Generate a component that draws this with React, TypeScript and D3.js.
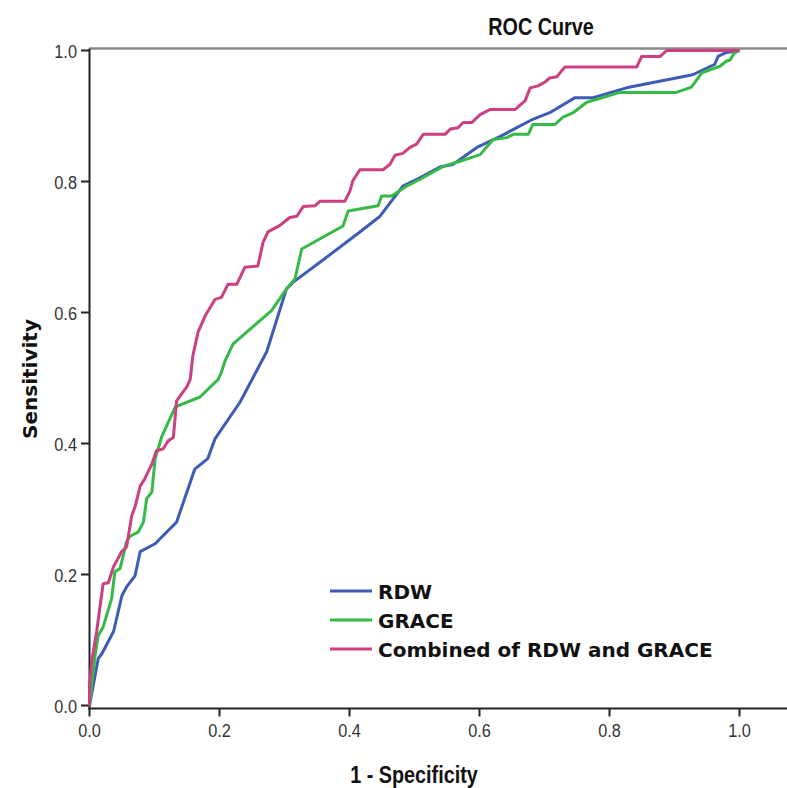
import React from "react";
import * as d3 from "d3";

const xTicks = [0, 0.2, 0.4, 0.6, 0.8, 1.0];
const yTicks = [0, 0.2, 0.4, 0.6, 0.8, 1.0];

const rdwFpr = [0, 0.0135, 0.019, 0.037, 0.05, 0.057, 0.07, 0.078, 0.101, 0.134, 0.162, 0.182, 0.193, 0.2315, 0.2726, 0.303, 0.313, 0.355, 0.416, 0.447, 0.482, 0.503, 0.539, 0.559, 0.596, 0.632, 0.682, 0.708, 0.747, 0.775, 0.826, 0.928, 0.962, 0.967, 0.98, 1];
const rdwTpr = [0, 0.072, 0.079, 0.113, 0.168, 0.181, 0.198, 0.235, 0.247, 0.28, 0.361, 0.377, 0.407, 0.463, 0.54, 0.636, 0.646, 0.677, 0.723, 0.747, 0.793, 0.803, 0.822, 0.826, 0.852, 0.869, 0.895, 0.905, 0.928, 0.928, 0.943, 0.963, 0.979, 0.991, 0.997, 1];

const graceFpr = [0, 0.0085, 0.0135, 0.021, 0.034, 0.039, 0.047, 0.057, 0.062, 0.075, 0.083, 0.088, 0.096, 0.101, 0.111, 0.132, 0.17, 0.198, 0.203, 0.2085, 0.221, 0.28, 0.303, 0.316, 0.3265, 0.39, 0.398, 0.444, 0.4495, 0.465, 0.488, 0.508, 0.544, 0.57, 0.601, 0.621, 0.642, 0.652, 0.675, 0.682, 0.716, 0.728, 0.744, 0.765, 0.816, 0.903, 0.926, 0.942, 0.97, 0.98, 0.985, 0.992, 1];
const graceTpr = [0, 0.076, 0.107, 0.12, 0.163, 0.204, 0.209, 0.25, 0.258, 0.265, 0.28, 0.316, 0.326, 0.377, 0.41, 0.456, 0.471, 0.498, 0.509, 0.526, 0.552, 0.603, 0.636, 0.651, 0.697, 0.732, 0.755, 0.763, 0.778, 0.778, 0.793, 0.803, 0.823, 0.831, 0.841, 0.864, 0.867, 0.872, 0.872, 0.887, 0.887, 0.898, 0.905, 0.921, 0.936, 0.936, 0.944, 0.966, 0.976, 0.984, 0.985, 0.996, 1];

const combFpr = [0, 0, 0.0034, 0.011, 0.021, 0.029, 0.037, 0.042, 0.0495, 0.057, 0.065, 0.07, 0.078, 0.085, 0.096, 0.103, 0.1135, 0.121, 0.129, 0.134, 0.142, 0.1495, 0.155, 0.159, 0.167, 0.178, 0.193, 0.203, 0.213, 0.2265, 0.239, 0.259, 0.267, 0.2745, 0.293, 0.308, 0.319, 0.329, 0.347, 0.355, 0.393, 0.401, 0.405, 0.416, 0.4515, 0.462, 0.47, 0.482, 0.493, 0.503, 0.5135, 0.547, 0.555, 0.567, 0.575, 0.588, 0.601, 0.616, 0.655, 0.67, 0.678, 0.69, 0.701, 0.708, 0.719, 0.7315, 0.842, 0.8495, 0.878, 0.888, 1];
const combTpr = [0, 0.03, 0.067, 0.113, 0.186, 0.1875, 0.212, 0.221, 0.235, 0.242, 0.29, 0.303, 0.335, 0.346, 0.369, 0.389, 0.392, 0.404, 0.409, 0.465, 0.476, 0.486, 0.498, 0.534, 0.57, 0.595, 0.62, 0.623, 0.643, 0.643, 0.669, 0.671, 0.707, 0.723, 0.733, 0.745, 0.747, 0.762, 0.763, 0.77, 0.77, 0.786, 0.801, 0.818, 0.818, 0.826, 0.84, 0.843, 0.852, 0.857, 0.872, 0.872, 0.88, 0.882, 0.89, 0.89, 0.902, 0.91, 0.91, 0.923, 0.943, 0.946, 0.952, 0.958, 0.96, 0.975, 0.975, 0.991, 0.991, 1, 1];

const seriesNames = ["RDW", "GRACE", "Combined of RDW and GRACE"];
const seriesColors = ["#3e5bb5", "#36b946", "#cc3f80"];

const ARIAL = "Liberation Sans, Arial, sans-serif";

export default function App() {
  const x = d3.scaleLinear().domain([0, 1]).range([89.5, 739.5]);
  const y = d3.scaleLinear().domain([0, 1]).range([705.5, 50.5]);
  const line = d3
    .line<[number, number]>()
    .x((d) => x(d[0]))
    .y((d) => y(d[1]));
  const series = [
    d3.zip(rdwFpr, rdwTpr) as [number, number][],
    d3.zip(graceFpr, graceTpr) as [number, number][],
    d3.zip(combFpr, combTpr) as [number, number][],
  ];
  const fmt = d3.format(".1f");
  const axisY = 708.5;
  const topY = 48.5;
  const legendY = [591, 620, 649];
  const sx = 0.86;

  return (
    <svg
      width={787}
      height={788}
      style={{ position: "absolute", left: 0, top: 0, background: "#fff" }}
    >
      <rect x={0} y={0} width={787} height={788} fill="#fff" />
      <text
        transform={`translate(541,35) scale(${sx},1)`}
        textAnchor="middle"
        fontFamily={ARIAL}
        fontWeight="bold"
        fontSize={23}
        fill="#111"
      >
        ROC Curve
      </text>
      {/* top frame */}
      <line x1={89.5} x2={787} y1={topY} y2={topY} stroke="#8a8a8a" strokeWidth={2.5} />
      {/* y axis */}
      <line x1={89.5} x2={89.5} y1={topY} y2={axisY + 1} stroke="#222" strokeWidth={2} />
      {/* x axis */}
      <line x1={88.5} x2={787} y1={axisY} y2={axisY} stroke="#222" strokeWidth={2} />
      {yTicks.map((t) => (
        <g key={"y" + t}>
          <line x1={81} x2={89.5} y1={y(t)} y2={y(t)} stroke="#222" strokeWidth={2} />
          <text
            transform={`translate(77,${y(t) + 7}) scale(${sx},1)`}
            textAnchor="end"
            fontFamily={ARIAL}
            fontSize={19}
            fill="#333"
          >
            {fmt(t)}
          </text>
        </g>
      ))}
      {xTicks.map((t) => (
        <g key={"x" + t}>
          <line x1={x(t)} x2={x(t)} y1={axisY} y2={axisY + 8} stroke="#222" strokeWidth={2} />
          <text
            transform={`translate(${x(t)},737) scale(${sx},1)`}
            textAnchor="middle"
            fontFamily={ARIAL}
            fontSize={19}
            fill="#333"
          >
            {fmt(t)}
          </text>
        </g>
      ))}
      <text
        transform={`translate(414,783) scale(${sx},1)`}
        textAnchor="middle"
        fontFamily={ARIAL}
        fontWeight="bold"
        fontSize={23}
        fill="#111"
      >
        1 - Specificity
      </text>
      <text
        transform={`translate(37,379) rotate(-90)`}
        textAnchor="middle"
        fontFamily="DejaVu Sans, sans-serif"
        fontWeight="bold"
        fontSize={20}
        fill="#111"
      >
        Sensitivity
      </text>
      {series.map((s, i) => (
        <path
          key={seriesNames[i]}
          d={line(s) || ""}
          fill="none"
          stroke={seriesColors[i]}
          strokeWidth={3}
          strokeLinejoin="round"
        />
      ))}
      {seriesNames.map((n, i) => (
        <g key={"lg" + n}>
          <line x1={330} x2={372} y1={legendY[i]} y2={legendY[i]} stroke={seriesColors[i]} strokeWidth={3} />
          <text
            x={378}
            y={legendY[i] + 7.5}
            fontFamily="DejaVu Sans, sans-serif"
            fontWeight="bold"
            fontSize={20}
            fill="#111"
          >
            {n}
          </text>
        </g>
      ))}
    </svg>
  );
}
